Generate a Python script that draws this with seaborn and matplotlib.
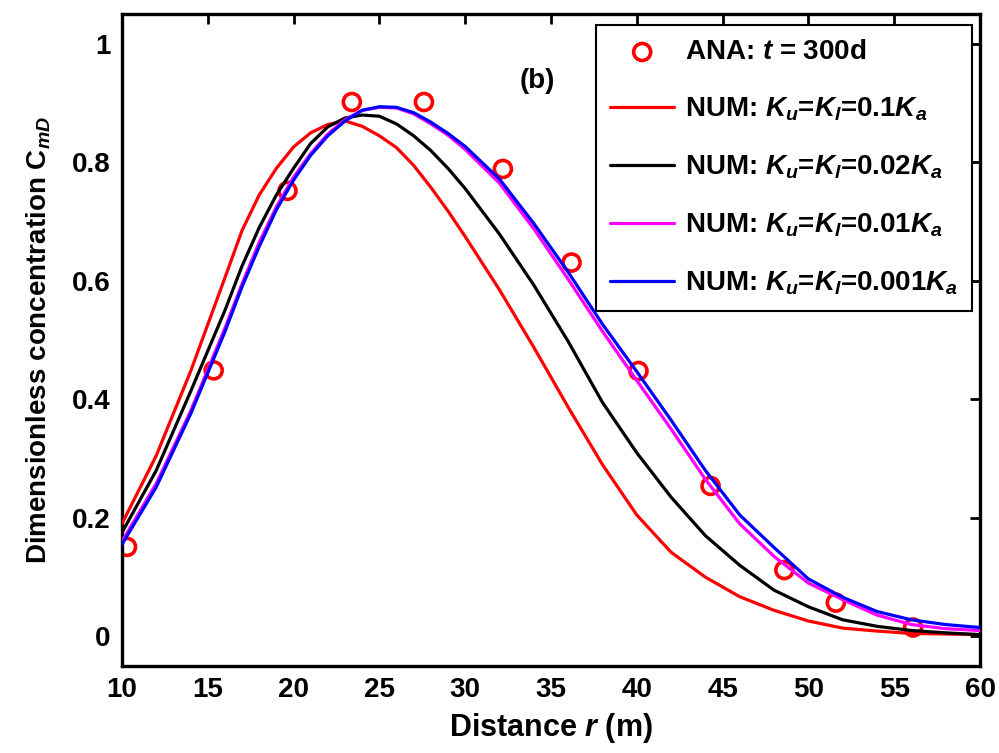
import matplotlib
matplotlib.use("Agg")
import matplotlib.pyplot as plt
import seaborn as sns
import numpy as np
from matplotlib import font_manager

sns.set_theme(style="white")

avail = {f.name for f in font_manager.fontManager.ttflist}
fam = "Liberation Sans Narrow" if "Liberation Sans Narrow" in avail else "Liberation Sans"
plt.rcParams['font.family'] = [fam, 'DejaVu Sans']
plt.rcParams['font.weight'] = 'bold'
plt.rcParams['mathtext.fontset'] = 'custom'
plt.rcParams['mathtext.rm'] = f'{fam}:bold'
plt.rcParams['mathtext.it'] = f'{fam}:italic:bold'
plt.rcParams['mathtext.bf'] = f'{fam}:bold'
plt.rcParams['text.color'] = 'black'
plt.rcParams['axes.labelcolor'] = 'black'
plt.rcParams['xtick.color'] = 'black'
plt.rcParams['ytick.color'] = 'black'

# ---- data ----
ana_x = [10.3, 15.35, 19.65, 23.4, 27.6, 32.2, 36.2, 40.1, 44.3, 48.6, 51.6, 56.1]
ana_y = [0.151, 0.449, 0.752, 0.902, 0.902, 0.789, 0.631, 0.448, 0.254, 0.112, 0.057, 0.015]

num_x = [10, 12, 14, 16, 17, 18, 19, 20, 21, 22, 23, 24, 25, 26, 27, 28, 29, 30, 32, 34,
         36, 38, 40, 42, 44, 46, 48, 50, 52, 54, 56, 58, 60]
red_y = [0.19, 0.305, 0.447, 0.605, 0.685, 0.745, 0.79, 0.826, 0.85, 0.864, 0.87, 0.861,
         0.845, 0.825, 0.795, 0.758, 0.718, 0.675, 0.585, 0.488, 0.387, 0.29, 0.205,
         0.142, 0.1, 0.067, 0.044, 0.026, 0.014, 0.009, 0.005, 0.004, 0.003]
black_y = [0.175, 0.28, 0.413, 0.55, 0.625, 0.69, 0.745, 0.79, 0.832, 0.86, 0.875, 0.88,
           0.878, 0.865, 0.845, 0.82, 0.79, 0.756, 0.679, 0.593, 0.498, 0.395, 0.31,
           0.235, 0.17, 0.12, 0.078, 0.05, 0.028, 0.017, 0.01, 0.006, 0.003]
mag_y = [0.16, 0.258, 0.38, 0.52, 0.595, 0.665, 0.725, 0.775, 0.815, 0.848, 0.872, 0.888,
         0.893, 0.892, 0.882, 0.865, 0.846, 0.822, 0.765, 0.688, 0.603, 0.515, 0.432,
         0.35, 0.265, 0.19, 0.135, 0.09, 0.062, 0.036, 0.02, 0.013, 0.01]
blue_y = [0.155, 0.252, 0.375, 0.514, 0.59, 0.658, 0.72, 0.77, 0.812, 0.845, 0.87, 0.888,
          0.894, 0.893, 0.884, 0.868, 0.849, 0.827, 0.772, 0.697, 0.615, 0.527, 0.447,
          0.365, 0.28, 0.205, 0.15, 0.097, 0.066, 0.042, 0.028, 0.02, 0.015]

labels = ["ANA: $t$ = 300d",
          "NUM: $K_u$=$K_l$=0.1$K_a$",
          "NUM: $K_u$=$K_l$=0.02$K_a$",
          "NUM: $K_u$=$K_l$=0.01$K_a$",
          "NUM: $K_u$=$K_l$=0.001$K_a$"]
colors = ["#ff0000", "#000000", "#ff00ff", "#0000ff"]

fig = plt.figure(figsize=(9.99, 7.53), dpi=100)
ax = fig.add_axes([0.122, 0.1155, 0.859, 0.8655])

sns.scatterplot(x=ana_x, y=ana_y, ax=ax, marker='o', s=150, facecolor='none',
                edgecolor='#ff0000', linewidth=2.6, label=labels[0], zorder=2)
for ys, c, lab in zip([red_y, black_y, mag_y, blue_y], colors, labels[1:]):
    sns.lineplot(x=num_x, y=ys, ax=ax, color=c, linewidth=2.3, label=lab, zorder=3)

ax.set_xlim(10, 60)
ax.set_ylim(-0.05, 1.05)
ax.set_xticks(range(10, 61, 5))
ax.set_yticks([0, 0.2, 0.4, 0.6, 0.8, 1.0])
ax.set_yticklabels(["0", "0.2", "0.4", "0.6", "0.8", "1"])
ax.tick_params(direction='in', length=7, width=2, top=True, right=True,
               labelsize=20, pad=8, colors='black')
for lab in ax.get_xticklabels() + ax.get_yticklabels():
    lab.set_fontweight('bold')
for s in ax.spines.values():
    s.set_linewidth(2.4)
    s.set_color('black')

ax.set_xlabel("Distance $r$ (m)", fontsize=22, fontweight='bold', labelpad=6, color='black')
ax.set_ylabel("Dimensionless concentration C$_{mD}$", fontsize=20, fontweight='bold',
              labelpad=14, color='black')
ax.text(34.2, 0.937, "(b)", fontsize=20, fontweight='bold', ha='center', va='center',
        color='black')

leg = ax.legend(loc='upper right', bbox_to_anchor=(0.991, 0.983), fontsize=20,
                frameon=True, fancybox=False, edgecolor='black', framealpha=1,
                borderpad=0.5, labelspacing=1.1, handlelength=2.3, handletextpad=0.4,
                borderaxespad=0)
leg.get_frame().set_linewidth(1.5)
for t in leg.get_texts():
    t.set_fontweight('bold')
    t.set_color('black')

fig.savefig("out.png", dpi=100)
